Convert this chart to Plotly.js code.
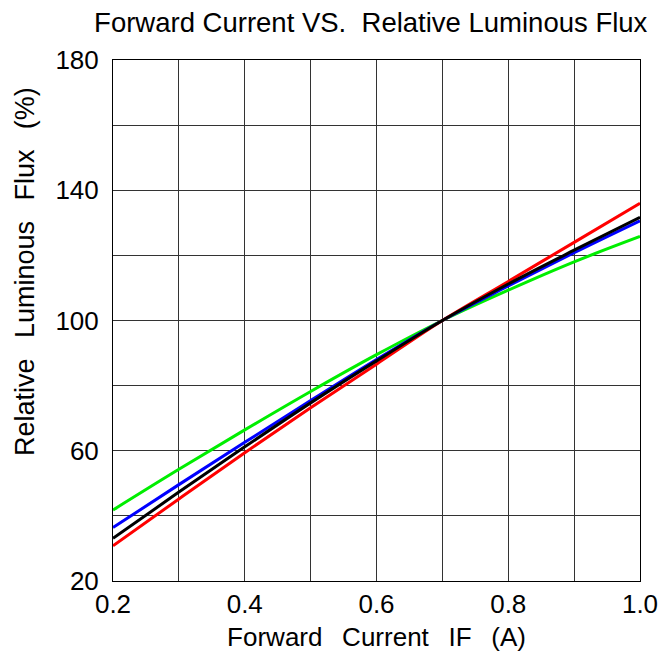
<!DOCTYPE html>
<html>
<head>
<meta charset="utf-8">
<script src="https://cdn.plot.ly/plotly-3.0.1.min.js"></script>
<style>html,body{margin:0;padding:0;background:#fff;}#chart{width:662px;height:655px;}</style>
</head>
<body>
<div id="chart"></div>
<script>
const currentA = [0.2, 0.3, 0.4, 0.5, 0.6, 0.7, 0.8, 0.9, 1.0];
const fluxGreen = [41.8, 54.3, 66.4, 78.2, 89.5, 100, 109.3, 118.0, 125.8];
const fluxBlue  = [36.4, 49.6, 62.6, 75.4, 88.0, 100, 110.6, 120.8, 130.6];
const fluxRed   = [30.8, 45.2, 59.4, 73.2, 86.6, 100, 112.0, 124.0, 136.0];
const fluxBlack = [33.1, 47.3, 61.2, 74.7, 87.6, 100, 111.2, 121.6, 131.7];
const xTickVals = [0.2, 0.4, 0.6, 0.8, 1.0];
const xTickText = ['0.2', '0.4', '0.6', '0.8', '1.0'];
const yTickVals = [20, 60, 100, 140, 180];
const yTickText = ['20', '60', '100', '140', '180'];

const FONT = '"Liberation Sans", Arial, sans-serif';
const GAP = '\u00a0\u00a0\u2009';
function tr(y, color) {
  return {x: currentA, y: y, mode: 'lines', type: 'scatter',
    line: {color: color, width: 3, shape: 'spline', smoothing: 1},
    hoverinfo: 'skip', showlegend: false};
}
const data = [
  tr(fluxGreen, '#00ee00'),
  tr(fluxBlue, '#0000ff'),
  tr(fluxRed, '#ff0000'),
  tr(fluxBlack, '#000000')
];
const gridCol = '#333333';
const layout = {
  width: 662, height: 655,
  margin: {l: 113, r: 22, t: 60, b: 74},
  paper_bgcolor: '#ffffff', plot_bgcolor: '#ffffff',
  font: {family: FONT, color: '#000', size: 26},
  title: {text: 'Forward Current VS.\u00a0\u00a0Relative Luminous Flux', x: 0.56, xanchor: 'center', y: 0.966, yanchor: 'middle',
    font: {family: FONT, size: 27.5, color: '#000'}},
  xaxis: {
    range: [0.2, 1.0], tickvals: xTickVals, ticktext: xTickText,
    showgrid: true, gridcolor: gridCol, gridwidth: 1,
    minor: {dtick: 0.1, tick0: 0.2, showgrid: true, gridcolor: gridCol, gridwidth: 1},
    showline: true, linecolor: '#000', linewidth: 1, mirror: true,
    ticks: '', zeroline: false, fixedrange: true,
    tickfont: {family: FONT, size: 26, color: '#000'},
    title: {text: 'Forward' + GAP + 'Current' + GAP + 'IF' + GAP + '(A)', standoff: 9,
      font: {family: FONT, size: 26, color: '#000'}}
  },
  yaxis: {
    range: [20, 180], tickvals: yTickVals, ticktext: yTickText,
    showgrid: true, gridcolor: gridCol, gridwidth: 1,
    minor: {dtick: 20, tick0: 20, showgrid: true, gridcolor: gridCol, gridwidth: 1},
    showline: true, linecolor: '#000', linewidth: 1, mirror: true,
    ticks: '', zeroline: false, fixedrange: true, ticklabelstandoff: 8,
    tickfont: {family: FONT, size: 26, color: '#000'}
  },
  annotations: [{
    text: 'Relative' + GAP + 'Luminous' + GAP + 'Flux' + GAP + '(%)', textangle: -90,
    xref: 'paper', yref: 'paper', x: -0.167, y: 0.595, xanchor: 'center', yanchor: 'middle',
    showarrow: false, font: {family: FONT, size: 27, color: '#000'}
  }]
};
Plotly.newPlot('chart', data, layout, {displayModeBar: false, staticPlot: true});
</script>
</body>
</html>
